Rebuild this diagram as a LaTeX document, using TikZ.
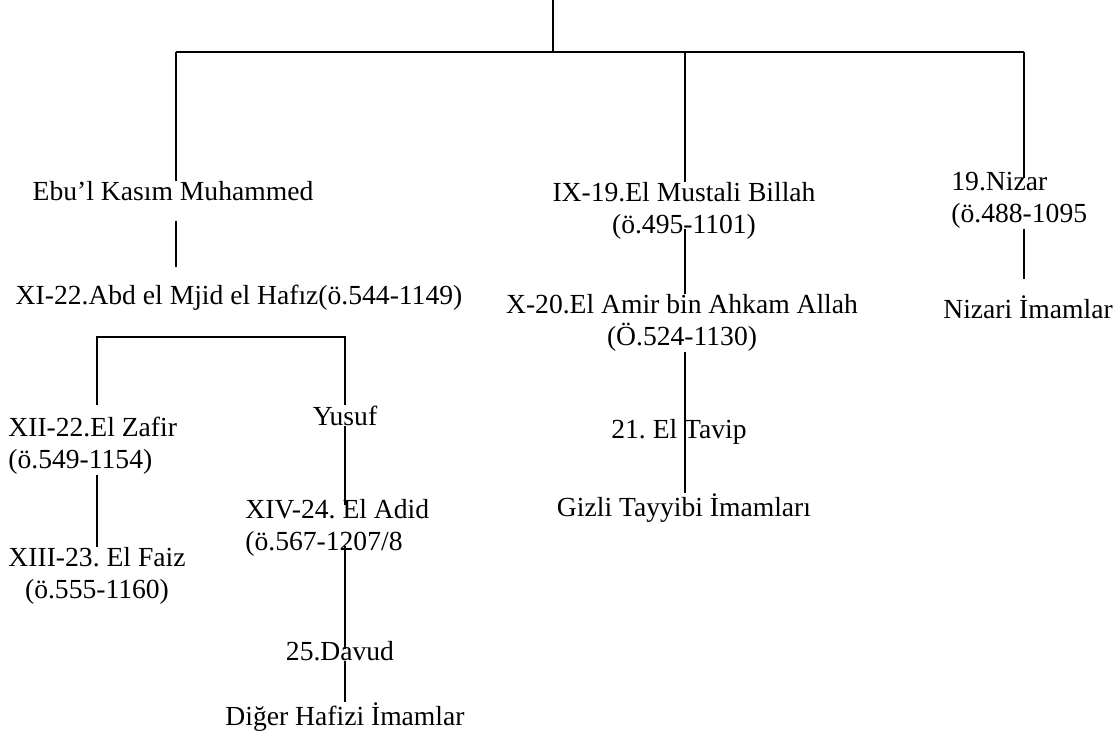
\documentclass[tikz,border=0pt]{standalone}
\usepackage{fontspec}
\setmainfont{Liberation Serif}
\usetikzlibrary{positioning}
\frenchspacing

\tikzset{
  imam/.style={inner sep=0pt, font=\fontsize{13.8}{15.9}\selectfont},
  link/.style={line width=0.9pt},
}

\begin{document}
\begin{tikzpicture}[x=0.5pt,y=-0.5pt]
    \useasboundingbox (0,0) rectangle (1117,732);
    % Fork points
    \coordinate (top) at (553,0);
    \coordinate (barL) at (176,52);
    \coordinate (barM) at (685,52);
    \coordinate (barR) at (1024,52);
    \coordinate (forkL) at (97,337);
    \coordinate (forkR) at (345,337);

    % Left branch
    \node[imam, anchor=base] (ebul) at (173,201) {Ebu’l Kasım Muhammed};
    \node[imam, anchor=base] (hafiz) at (239,305) {XI-22.Abd el Mjid el Hafız(ö.544-1149)};
    \node[imam, anchor=north west, align=left] (zafir) at (8,417) {XII-22.El Zafir\\(ö.549-1154)};
    \node[imam, anchor=north, align=center] (faiz) at (97,547) {XIII-23. El Faiz\\(ö.555-1160)};
    \node[imam, anchor=base] (yusuf) at (345,425) {Yusuf};
    \node[imam, anchor=north west, align=left] (adid) at (245,499) {XIV-24. El Adid\\(ö.567-1207/8};
    \node[imam, anchor=base] (davud) at (340,660) {25.Davud};
    \node[imam, anchor=base] (hafizi) at (345,725) {Diğer Hafizi İmamlar};

    % Middle branch
    \node[imam, anchor=north, align=center] (mustali) at (684,182) {IX-19.El Mustali Billah\\(ö.495-1101)};
    \node[imam, anchor=north, align=center] (amir) at (682,294) {X-20.El Amir bin Ahkam Allah\\(Ö.524-1130)};
    \node[imam, anchor=base] (tavip) at (679,438) {21. El Tavip};
    \node[imam, anchor=base] (tayyibi) at (684,516) {Gizli Tayyibi İmamları};

    % Right branch
    \node[imam, anchor=north west, align=left] (nizar) at (951,172) {19.Nizar\\(ö.488-1095};
    \node[imam, anchor=base] (nizari) at (1028,318) {Nizari İmamlar};

    % Lines
    \draw[link] (top) -- (top |- barL);
    \draw[link] (barL) -- (barR);
    \draw[link] (barL) -- (barL |- ebul.north);
    \draw[link, shorten <=9.5pt, shorten >=9pt] (ebul.south -| barL) -- (barL |- hafiz.north);
    \draw[link, shorten <=6pt] (forkL |- zafir.north) -- (forkL) -- (forkR) -- (forkR |- yusuf.north);
    \draw[link] (zafir.south -| forkL) -- (forkL |- faiz.north);
    \draw[link, shorten >=-3pt] (yusuf.south -| forkR) -- (forkR |- adid.north);
    \draw[link, shorten <=-5.5pt, shorten >=-4.5pt] (adid.south -| forkR) -- (forkR |- davud.north);
    \draw[link] (davud.south -| forkR) -- (forkR |- hafizi.north);
    \draw[link] (barM) -- (barM |- mustali.north);
    \draw[link, shorten <=-5.5pt] (mustali.south -| barM) -- (barM |- amir.north);
    \draw[link] (amir.south -| barM) -- (barM |- tavip.center) -- (barM |- tayyibi.north);
    \draw[link, shorten >=-3pt] (barR) -- (barR |- nizar.north);
    \draw[link, shorten >=8pt] (nizar.south -| barR) -- (barR |- nizari.north);
\end{tikzpicture}
\end{document}
